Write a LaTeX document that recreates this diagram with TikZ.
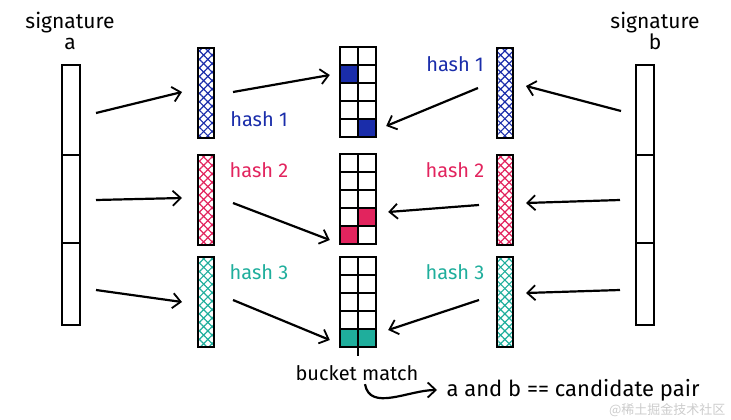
\documentclass[tikz,border=0pt]{standalone}
\usepackage{fontspec}
\setmainfont{Fira Sans}
\newfontfamily\cjkfont{Noto Sans CJK SC}
\usetikzlibrary{arrows.meta,patterns.meta,calc,positioning}
\definecolor{hashblue}{HTML}{1A2DAA}
\definecolor{hashpink}{HTML}{E2245E}
\definecolor{hashteal}{HTML}{1FAE9C}
% one filled cell of a bucket: node, column, row, colour
\newcommand\bcell[4]{\fill[#4] ([shift={({(#2-1)*18},{(#3-1)*18})}]#1.north west) rectangle +(18,18);}

\begin{document}
\begin{tikzpicture}[
		x=1pt, y=-1pt,
		every node/.style={font=\fontsize{20}{22}\selectfont},
		sigbar/.style={draw, line width=2pt, minimum width=18pt, inner sep=0pt},
		hashbar/.style={draw, line width=2pt, minimum width=16pt, minimum height=90pt, inner sep=0pt,
			preaction={pattern={Lines[angle=45,distance=6pt,line width=1.2pt]}, pattern color=#1},
			preaction={pattern={Lines[angle=-45,distance=6pt,line width=1.2pt]}, pattern color=#1}},
		bucket/.style={minimum width=36pt, minimum height=90pt, inner sep=0pt},
		hashlbl/.style={text=#1},
		arr/.style={line width=2.2pt, -{Straight Barb[length=8pt,width=15pt,line width=1.8pt]}}
	]
	\useasboundingbox (0,0) rectangle (731,420);

	% signatures
	\node[align=center, font=\fontsize{21}{21}\selectfont] (sigAtxt) at (70,31) {signature\\a};
	\node[align=center, font=\fontsize{21}{21}\selectfont] (sigBtxt) at (655,31) {signature\\b};
	\node[sigbar, minimum height=90pt] (sigA1) at (71,110) {};
	\node[sigbar, minimum height=88pt] (sigA2) at (71,199) {};
	\node[sigbar, minimum height=82pt] (sigA3) at (71,284) {};
	\node[sigbar, minimum height=90pt] (sigB1) at (645,110) {};
	\node[sigbar, minimum height=88pt] (sigB2) at (645,199) {};
	\node[sigbar, minimum height=82pt] (sigB3) at (645,284) {};

	% hashed bands
	\node[hashbar=hashblue] (hashL1) at (206,93) {};
	\node[hashbar=hashpink] (hashL2) at (206,200) {};
	\node[hashbar=hashteal] (hashL3) at (206,302) {};
	\node[hashbar=hashblue] (hashR1) at (505,93) {};
	\node[hashbar=hashpink] (hashR2) at (505,200) {};
	\node[hashbar=hashteal] (hashR3) at (505,302) {};

	\node[hashlbl=hashblue] (lblL1) at (259,119) {hash 1};
	\node[hashlbl=hashpink] (lblL2) at (259,170) {hash 2};
	\node[hashlbl=hashteal] (lblL3) at (259,272) {hash 3};
	\node[hashlbl=hashblue] (lblR1) at (455,64) {hash 1};
	\node[hashlbl=hashpink] (lblR2) at (455,170) {hash 2};
	\node[hashlbl=hashteal] (lblR3) at (455,272) {hash 3};

	% buckets
	\node[bucket] (bkt1) at (358,92) {};
	\node[bucket] (bkt2) at (358,199) {};
	\node[bucket] (bkt3) at (358,302) {};
	\bcell{bkt1}{1}{2}{hashblue}
	\bcell{bkt1}{2}{5}{hashblue}
	\bcell{bkt2}{2}{4}{hashpink}
	\bcell{bkt2}{1}{5}{hashpink}
	\bcell{bkt3}{1}{5}{hashteal}
	\bcell{bkt3}{2}{5}{hashteal}
	\foreach \b in {bkt1,bkt2,bkt3} {
		\draw[line width=2pt] (\b.north west) rectangle (\b.south east) (\b.north) -- (\b.south);
		\foreach \r in {1,...,4}
			\draw[line width=2pt] ($(\b.north west)!\r/5!(\b.south west)$) -- ($(\b.north east)!\r/5!(\b.south east)$);
	}

	% arrows
	\draw[arr] ([shift={(15,3)}]sigA1.east) -- ([shift={(-15,-1)}]hashL1.west);
	\draw[arr] ([shift={(15,1)}]sigA2.east) -- ([shift={(-15,-2)}]hashL2.west);
	\draw[arr] ([shift={(15,6)}]sigA3.east) -- ([shift={(-15,0)}]hashL3.west);
	\draw[arr] ([shift={(18,-1)}]hashL1.east) -- ([shift={(-10,-17)}]bkt1.west);
	\draw[arr] ([shift={(18,3)}]hashL2.east) -- ([shift={(-10,41)}]bkt2.west);
	\draw[arr] ([shift={(18,-2)}]hashL3.east) -- ([shift={(-10,38)}]bkt3.west);
	\draw[arr] ([shift={(-18,-5)}]hashR1.west) -- ([shift={(10,34)}]bkt1.east);
	\draw[arr] ([shift={(-17,5)}]hashR2.west) -- ([shift={(12,13)}]bkt2.east);
	\draw[arr] ([shift={(-17,-2)}]hashR3.west) -- ([shift={(12,28)}]bkt3.east);
	\draw[arr] ([shift={(-14,1)}]sigB1.west) -- ([shift={(12,-7)}]hashR1.east);
	\draw[arr] ([shift={(-15,1)}]sigB2.west) -- ([shift={(12,3)}]hashR2.east);
	\draw[arr] ([shift={(-15,6)}]sigB3.west) -- ([shift={(12,-9)}]hashR3.east);

	% match
	\draw[line width=1.8pt] ([yshift=3]bkt3.south) -- ++(0,12);
	\node (match) at (357,373) {bucket match};
	\node[anchor=west, font=\fontsize{22}{24}\selectfont] (pair) at (443,390) {a and b == candidate pair};
	\draw[arr] ([xshift=8]match.south) to[out=-80,in=180] ([xshift=-6]pair.west);

	\node[anchor=east, text=gray!40, font=\cjkfont\fontsize{13}{13}\selectfont] (mark) at (729,410) {@稀土掘金技术社区};
\end{tikzpicture}
\end{document}
